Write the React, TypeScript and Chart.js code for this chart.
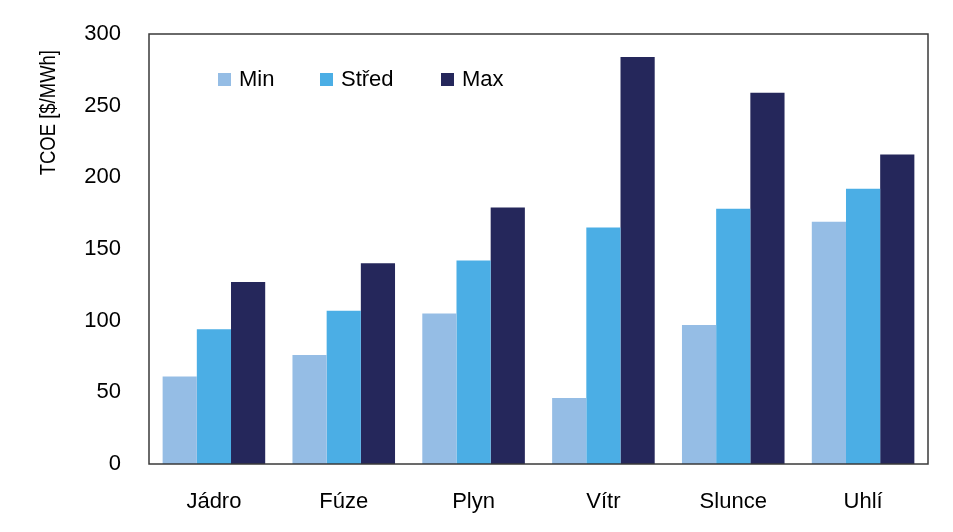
import React, { useEffect, useRef } from "react";
import { Chart, registerables } from "chart.js";

Chart.register(...registerables);

const categories = ["Jádro", "Fúze", "Plyn", "Vítr", "Slunce", "Uhlí"];
const minValues = [61, 76, 105, 46, 97, 169];
const midValues = [94, 107, 142, 165, 178, 192];
const maxValues = [127, 140, 179, 284, 259, 216];
const seriesNames = ["Min", "Střed", "Max"];
const seriesColors = ["#95BDE5", "#4BAEE5", "#25275B"];
const yTitle = "TCOE [$/MWh]";

const FONT = "Arial, 'Liberation Sans', sans-serif";

const framePlugin = {
  id: "frame",
  afterDraw(chart: any) {
    const { ctx, chartArea } = chart;
    const { left, right, top, bottom } = chartArea;
    ctx.save();
    ctx.strokeStyle = "#3a3a3a";
    ctx.lineWidth = 1.5;
    ctx.strokeRect(left, top, right - left, bottom - top);

    // legend inside plot
    const xs = [69, 171, 292];
    ctx.font = `22px ${FONT}`;
    ctx.textBaseline = "middle";
    ctx.textAlign = "left";
    seriesNames.forEach((name, i) => {
      const x = left + xs[i];
      ctx.fillStyle = seriesColors[i];
      ctx.fillRect(x, 73, 13, 13);
      ctx.fillStyle = "#000";
      ctx.fillText(name, x + 21, 80);
    });

    // y axis title
    ctx.translate(49, 50);
    ctx.rotate(-Math.PI / 2);
    ctx.scale(0.84, 1);
    ctx.textAlign = "right";
    ctx.textBaseline = "middle";
    ctx.font = `22px ${FONT}`;
    ctx.fillStyle = "#000";
    ctx.fillText(yTitle, 0, 0);
    ctx.restore();
  },
};

export default function App() {
  const ref = useRef<HTMLCanvasElement>(null);
  useEffect(() => {
    document.body.style.margin = "0";
    const chart = new Chart(ref.current!, {
      type: "bar",
      data: {
        labels: categories,
        datasets: [minValues, midValues, maxValues].map((d, i) => ({
          label: seriesNames[i],
          data: d,
          backgroundColor: seriesColors[i],
          borderWidth: 0,
          categoryPercentage: 0.79,
          barPercentage: 1,
        })),
      },
      options: {
        animation: false,
        responsive: false,
        layout: { padding: { left: 0, top: 34, right: 25, bottom: 0 } },
        plugins: { legend: { display: false }, tooltip: { enabled: false } },
        scales: {
          x: {
            grid: { display: false, drawTicks: false },
            border: { display: false },
            ticks: { color: "#000", font: { family: FONT, size: 22 }, padding: 25 },
            afterFit: (s: any) => { s.height = 68; s.paddingLeft = 0; s.paddingRight = 0; },
          },
          y: {
            min: 0,
            max: 300,
            grid: { display: false, drawTicks: false },
            border: { display: false },
            ticks: { stepSize: 50, color: "#000", font: { family: FONT, size: 22 }, padding: 28 },
            afterFit: (s: any) => { s.width = 149; s.paddingTop = 0; s.paddingBottom = 0; },
          },
        },
      },
      plugins: [framePlugin],
    });
    return () => chart.destroy();
  }, []);
  return (
    <div style={{ width: 953, height: 532 }}>
      <canvas ref={ref} width={953} height={532} />
    </div>
  );
}
